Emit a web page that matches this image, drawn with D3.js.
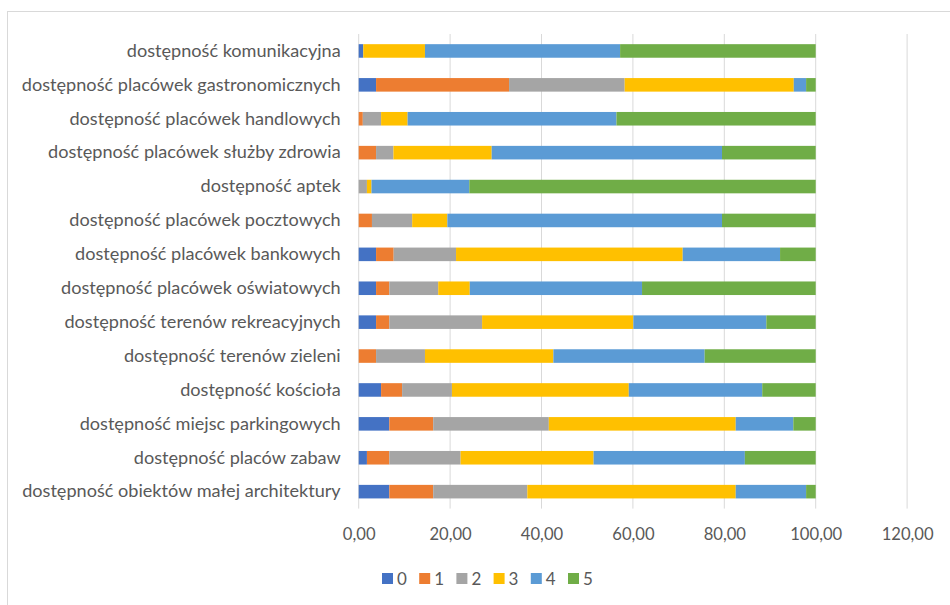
<!DOCTYPE html>
<html>
<head>
<meta charset="utf-8">
<script src="https://cdn.jsdelivr.net/npm/d3@7"></script>
<style>
  html, body { margin: 0; padding: 0; background: #fff; }
  svg { display: block; }
  text { font-family: Lato, "Open Sans", sans-serif; fill: #595959; }
</style>
</head>
<body>
<svg id="chart" width="950" height="605"></svg>
<script>
const categories = [
  "dostępność komunikacyjna",
  "dostępność placówek gastronomicznych",
  "dostępność placówek handlowych",
  "dostępność placówek służby zdrowia",
  "dostępność aptek",
  "dostępność placówek pocztowych",
  "dostępność placówek bankowych",
  "dostępność placówek oświatowych",
  "dostępność terenów rekreacyjnych",
  "dostępność terenów zieleni",
  "dostępność kościoła",
  "dostępność miejsc parkingowych",
  "dostępność placów zabaw",
  "dostępność obiektów małej architektury"
];
const seriesNames = ["0", "1", "2", "3", "4", "5"];
const s0 = [1.0, 3.8, 0.0, 0.0, 0.0, 0.0, 3.8, 3.8, 3.8, 0.0, 4.9, 6.7, 1.8, 6.7];
const s1 = [0.0, 29.1, 0.9, 3.8, 0.0, 2.9, 3.85, 2.9, 2.9, 3.8, 4.6, 9.6, 4.9, 9.6];
const s2 = [0.0, 25.3, 4.0, 3.8, 1.8, 8.8, 13.65, 10.7, 20.3, 10.7, 10.9, 25.3, 15.6, 20.6];
const s3 = [13.5, 37.0, 5.8, 21.5, 1.0, 7.7, 49.6, 6.9, 33.1, 28.1, 38.7, 40.9, 29.1, 45.6];
const s4 = [42.7, 2.7, 45.7, 50.4, 21.4, 60.1, 21.3, 37.7, 29.1, 33.1, 29.2, 12.6, 33.1, 15.4];
const s5 = [42.8, 2.1, 43.6, 20.5, 75.8, 20.5, 7.8, 38.0, 10.8, 24.3, 11.7, 4.9, 15.5, 2.1];
const tickValues = [0, 20, 40, 60, 80, 100, 120];
const colors = ["#4472C4", "#ED7D31", "#A5A5A5", "#FFC000", "#5B9BD5", "#70AD47"];

const seriesValues = [s0, s1, s2, s3, s4, s5];
const table = categories.map((c, i) => {
  const row = { cat: c };
  seriesNames.forEach((s, j) => row[s] = seriesValues[j][i]);
  return row;
});

const svg = d3.select("#chart");
const margin = { left: 358.7, right: 950 - 907.1, top: 34, bottom: 605 - 508.6 };
const width = 950 - margin.left - margin.right;
const height = 605 - margin.top - margin.bottom;

// chart border
svg.append("rect")
  .attr("x", 7.5).attr("y", 11.5)
  .attr("width", 960).attr("height", 620)
  .attr("fill", "none").attr("stroke", "#d9d9d9").attr("stroke-width", 1);

const g = svg.append("g").attr("transform", `translate(${margin.left},${margin.top})`);

const x = d3.scaleLinear().domain([0, 120]).range([0, width]);
const y = d3.scaleBand().domain(categories).range([0, height]).paddingInner(0.6).paddingOuter(0.3);

// gridlines
g.append("g").selectAll("line").data(tickValues).join("line")
  .attr("x1", d => x(d)).attr("x2", d => x(d))
  .attr("y1", 0).attr("y2", height)
  .attr("stroke", "#d9d9d9").attr("stroke-width", 1);

const stack = d3.stack().keys(seriesNames);
const stacked = stack(table);

g.append("g").selectAll("g").data(stacked).join("g")
  .attr("fill", (d, i) => colors[i])
  .selectAll("rect").data(d => d).join("rect")
  .attr("x", d => x(d[0]))
  .attr("y", d => y(d.data.cat))
  .attr("width", d => Math.max(0, x(d[1]) - x(d[0])))
  .attr("height", y.bandwidth());

// category axis labels
const catAxis = g.append("g").call(d3.axisLeft(y).tickSize(0).tickPadding(18));
catAxis.select(".domain").remove();
catAxis.selectAll("text").style("font-family", "Lato, 'Open Sans', sans-serif").attr("fill", "#595959");
catAxis.selectAll("text").style("font-size", "16px");
let maxW = 0;
catAxis.selectAll("text").each(function () { maxW = Math.max(maxW, this.getComputedTextLength()); });
const catSize = 16 * 319 / maxW;
catAxis.selectAll("text").style("font-size", catSize + "px");

// value axis labels
const valAxis = g.append("g").attr("transform", `translate(0,${height})`)
  .call(d3.axisBottom(x).tickValues(tickValues).tickSize(0).tickPadding(20)
    .tickFormat(d => d3.format(".2f")(d).replace(".", ",")));
valAxis.select(".domain").remove();
valAxis.selectAll("text").style("font-family", "Lato, 'Open Sans', sans-serif").attr("fill", "#595959").style("font-size", "16px");
let w120 = 0;
valAxis.selectAll("text").each(function (d) { if (d === 120) w120 = this.getComputedTextLength(); });
valAxis.selectAll("text").style("font-size", (16 * 52 / w120) + "px");

// legend
const legend = svg.append("g").attr("transform", "translate(382,573)");
const items = legend.selectAll("g").data(seriesNames).join("g")
  .attr("transform", (d, i) => `translate(${i * 37.2},0)`);
items.append("rect").attr("width", 11).attr("height", 11).attr("fill", (d, i) => colors[i]);
items.append("text").attr("x", 15).attr("y", 6).attr("dy", "0.35em")
  .style("font-size", "17px").text(d => d);
</script>
</body>
</html>
